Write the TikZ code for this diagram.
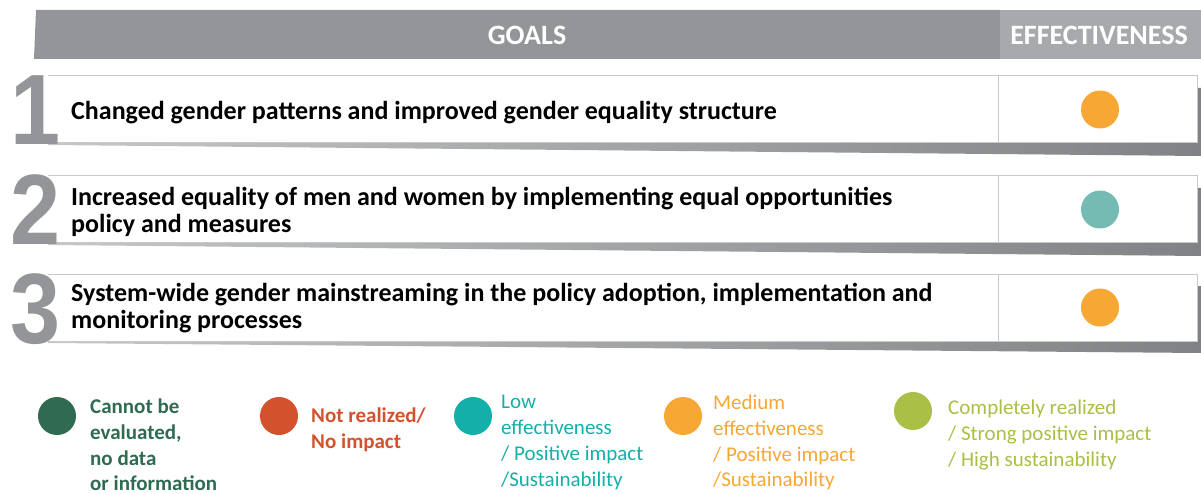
\documentclass[tikz,border=0pt]{standalone}
\usepackage{fontspec}
\setmainfont{Carlito}
\newfontfamily\numfont[FakeStretch=0.9]{Liberation Sans}
\definecolor{hdr}{HTML}{939598}
\definecolor{hdrlt}{HTML}{A7A9AC}
\definecolor{boxline}{HTML}{C8C9CB}
\definecolor{shadow}{HTML}{808285}
\definecolor{numgray}{HTML}{939598}
\definecolor{corange}{HTML}{F7A733}
\definecolor{cteal}{HTML}{76BBB3}
\definecolor{lgreen}{HTML}{2F6B50}
\definecolor{lred}{HTML}{D3522E}
\definecolor{lteal}{HTML}{13AFA9}
\definecolor{lorange}{HTML}{F7A733}
\definecolor{llime}{HTML}{A9BF45}
\tikzset{
  goaltext/.style={anchor=west, inner sep=0pt, align=left, font=\fontsize{26}{27}\selectfont\bfseries},
  hdrtext/.style={text=white, font=\fontsize{28}{30}\selectfont\bfseries},
  bignum/.style={anchor=base west, inner sep=0pt, text=numgray, font=\fontsize{100}{100}\numfont\bfseries},
  dot/.style={circle, inner sep=0pt, minimum size=38pt},
  legtext/.style={anchor=west, inner sep=0pt, align=left, font=\fontsize{21}{25.8}\selectfont},
  legbold/.style={legtext, font=\fontsize{21}{25.8}\selectfont\bfseries},
  rowbox/.style={fill=white},
  rowline/.style={draw=boxline, line width=1pt}
}
\begin{document}
\begin{tikzpicture}[x=1pt,y=-1pt]
\useasboundingbox (0,0) rectangle (1201,494);
% header
\fill[hdr] (36,10) -- (1000,10) -- (1000,59) -- (34,59) -- cycle;
\fill[hdrlt] (1000,10) rectangle (1201,59);
\node[hdrtext] (goals) at (527,35) {GOALS};
\node[hdrtext] (eff) at (1099,35) {EFFECTIVENESS};
% rows
\foreach \n/\t/\b/\sb/\col in {1/76/143/156/corange, 2/176/243/256/cteal, 3/274/341/353/corange}{
  \shade[left color=shadow!45, right color=shadow] (48,\b) -- (1197,\b) -- (1197,\t+12) -- (1201,\t+12) -- (1201,\sb) -- (48,\b+2) -- cycle;
  \fill[rowbox] (48,\t) rectangle (1197,\b);
  \draw[rowline] (48,\t) -- (1197,\t) -- (1197,\b) -- (48,\b);
  \draw[rowline] (998,\t) -- (998,\b);
  \node[dot, fill=\col] (c\n) at (1100,{(\t+\b)/2}) {};
  \node[bignum] (num\n) at (10,\b+2) {\n};
}
\node[goaltext] (g1) at (71,113) {Changed gender patterns and improved gender equality structure};
\node[goaltext] (g2) at (71,211.5) {Increased equality of men and women by implementing equal opportunities\\policy and measures};
\node[goaltext] (g3) at (71,308.5) {System-wide gender mainstreaming in the policy adoption, implementation and\\monitoring processes};
% legend
\node[dot, fill=lgreen] (d1) at (57,416) {};
\node[legbold, text=lgreen] (t1) at (90,445) {Cannot be\\evaluated,\\no data\\or information};
\node[dot, fill=lred] (d2) at (279,416) {};
\node[legbold, text=lred] (t2) at (311,429.5) {Not realized/\\No impact};
\node[dot, fill=lteal] (d3) at (473,416) {};
\node[legtext, text=lteal] (t3) at (501,442.5) {Low\\effectiveness\\/ Positive impact\\/Sustainability};
\node[dot, fill=lorange] (d4) at (683,416) {};
\node[legtext, text=lorange] (t4) at (713,442.5) {Medium\\effectiveness\\/ Positive impact\\/Sustainability};
\node[dot, fill=llime] (d5) at (913,411) {};
\node[legtext, text=llime] (t5) at (948,435) {Completely realized\\/ Strong positive impact\\/ High sustainability};
\end{tikzpicture}
\end{document}
